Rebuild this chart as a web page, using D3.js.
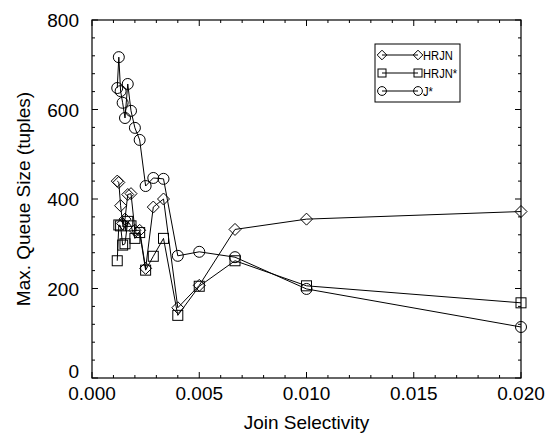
<!DOCTYPE html>
<html>
<head>
<meta charset="utf-8">
<script src="https://cdn.jsdelivr.net/npm/d3@7"></script>
<style>
  body { margin: 0; background: #fff; }
  svg { display: block; }
  text { font-family: "Liberation Sans", Arial, Helvetica, sans-serif; fill: #000; }
</style>
</head>
<body>
<div id="chart"></div>
<script>
// Join selectivities (1/N for N = 850 ... 50)
const selectivity = [1/850, 1/800, 1/750, 1/700, 1/650, 1/600, 1/550, 1/500, 1/450,
                     1/400, 1/350, 1/300, 1/250, 1/200, 1/150, 1/100, 1/50];
// Maximum queue size (tuples) per algorithm
const hrjn     = [440, 437, 385, 345, 355, 410, 412, 330, 330, 245, 382, 400, 157, 207, 332, 355, 372];
const hrjnStar = [262, 342, 340, 297, 300, 350, 340, 312, 325, 241, 272, 312, 140, 205, 262, 206, 168];
const jStar    = [648, 717, 641, 615, 581, 657, 597, 559, 532, 429, 447, 445, 273, 282, 270, 199, 114];

const seriesNames = ["HRJN", "HRJN*", "J*"];
const seriesMarkers = ["diamond", "square", "circle"];
const xTicks = [0, 0.005, 0.010, 0.015, 0.020];
const yTicks = [0, 200, 400, 600, 800];

const W = 548, H = 436;
const margin = { left: 92, right: 27, top: 20, bottom: 58 };

const svg = d3.select("#chart").append("svg").attr("width", W).attr("height", H);

const x = d3.scaleLinear().domain([0, 0.02]).range([margin.left, W - margin.right]);
const y = d3.scaleLinear().domain([0, 800]).range([H - margin.bottom, margin.top]);

const x0 = x.range()[0], x1 = x.range()[1];
const y0 = y.range()[0], y1 = y.range()[1];

// Frame
svg.append("rect")
  .attr("x", x0).attr("y", y1).attr("width", x1 - x0).attr("height", y0 - y1)
  .attr("fill", "none").attr("stroke", "#000").attr("stroke-width", 1.2);

// Inward ticks on all four sides
const g = svg.append("g").attr("stroke", "#000").attr("stroke-width", 1);
const xMinor = d3.range(0, 0.0205, 0.001);
const yMinor = d3.range(0, 801, 40);
xMinor.forEach(v => {
  const major = xTicks.some(t => Math.abs(t - v) < 1e-9);
  const len = major ? 6 : 3;
  const px = x(v);
  g.append("line").attr("x1", px).attr("x2", px).attr("y1", y0).attr("y2", y0 - len);
  g.append("line").attr("x1", px).attr("x2", px).attr("y1", y1).attr("y2", y1 + len);
});
yMinor.forEach(v => {
  const major = yTicks.includes(v);
  const len = major ? 6 : 3;
  const py = y(v);
  g.append("line").attr("x1", x0).attr("x2", x0 + len).attr("y1", py).attr("y2", py);
  g.append("line").attr("x1", x1).attr("x2", x1 - len).attr("y1", py).attr("y2", py);
});

// Tick labels
svg.append("g").selectAll("text").data(xTicks).join("text")
  .attr("x", d => x(d)).attr("y", y0 + 22)
  .attr("text-anchor", "middle").attr("font-size", 19)
  .text(d => d3.format(".3f")(d));
svg.append("g").selectAll("text").data(yTicks).join("text")
  .attr("x", x0 - 13).attr("y", d => y(d) + (d === 0 ? 0 : 7))
  .attr("text-anchor", "end").attr("font-size", 19)
  .text(d => d);

// Axis titles
svg.append("text").attr("x", (x0 + x1) / 2).attr("y", H - 7)
  .attr("text-anchor", "middle").attr("font-size", 19).text("Join Selectivity");
svg.append("text")
  .attr("transform", `translate(30,${(y0 + y1) / 2}) rotate(-90)`)
  .attr("text-anchor", "middle").attr("font-size", 19).text("Max. Queue Size (tuples)");

// Marker shapes
function drawMarker(sel, type, cx, cy, s = 1) {
  const common = m => m.attr("fill", "none").attr("stroke", "#000").attr("stroke-width", 1);
  if (type === "circle") {
    common(sel.append("circle").attr("cx", cx).attr("cy", cy).attr("r", 5.5 * s));
  } else if (type === "square") {
    const h = 5 * s;
    common(sel.append("rect").attr("x", cx - h).attr("y", cy - h).attr("width", 2 * h).attr("height", 2 * h));
  } else {
    const r = 6 * s;
    common(sel.append("path").attr("d", `M${cx},${cy - r}L${cx + r},${cy}L${cx},${cy + r}L${cx - r},${cy}Z`));
  }
}

const allSeries = [hrjn, hrjnStar, jStar];
const line = d3.line().x(d => x(d[0])).y(d => y(d[1]));

allSeries.forEach((vals, i) => {
  const pts = selectivity.map((s, j) => [s, vals[j]]);
  const sg = svg.append("g");
  sg.append("path").attr("d", line(pts))
    .attr("fill", "none").attr("stroke", "#000").attr("stroke-width", 1);
  pts.forEach(p => drawMarker(sg, seriesMarkers[i], x(p[0]), y(p[1])));
});

// Legend
const lg = svg.append("g");
lg.append("rect").attr("x", 375).attr("y", 44).attr("width", 85).attr("height", 58)
  .attr("fill", "#fff").attr("stroke", "#000").attr("stroke-width", 1);
seriesNames.forEach((name, i) => {
  const ly = 55 + i * 18;
  lg.append("line").attr("x1", 382).attr("x2", 418).attr("y1", ly).attr("y2", ly)
    .attr("stroke", "#000").attr("stroke-width", 1);
  drawMarker(lg, seriesMarkers[i], 382, ly, 0.8);
  drawMarker(lg, seriesMarkers[i], 418, ly, 0.8);
  lg.append("text")
    .attr("transform", `translate(423,${ly + 5}) scale(0.86,1)`)
    .attr("font-size", 13).text(name);
});
</script>
</body>
</html>
